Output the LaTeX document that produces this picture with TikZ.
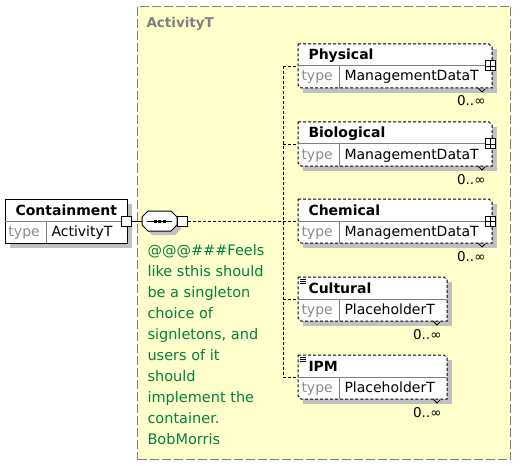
\documentclass[tikz,border=0pt]{standalone}
\usepackage{fontspec}
\setmainfont{DejaVu Sans}
\definecolor{paneyellow}{RGB}{255,255,204}
\definecolor{panegrey}{RGB}{128,128,128}
\definecolor{boxshadow}{RGB}{192,192,192}
\definecolor{notegreen}{RGB}{0,128,64}
\definecolor{typegrey}{RGB}{140,140,140}
\definecolor{divgrey}{RGB}{128,128,128}
\newcommand{\xelem}[8]{%
  \fill[boxshadow] ({#2+5},{#3+5}) rectangle ++(#4,44);
  \path[#7] (#2,#3) -- ++({#4-#8},0) -- ++(#8,#8) -- ++(0,{44-#8}) -- ++({-#4+#8},0) -- ++(-#8,-#8) -- cycle;
  \node[inner sep=0, minimum width=#4pt, minimum height=44pt, anchor=north west] (#1) at (#2,#3) {};
  \draw[divline] ({#2},{#3+22}) -- ++(#4,0);
  \draw[divline] ({#2+41},{#3+22}) -- ++(0,22);
  \node[titletext] (#1-name) at ({#2+10},{#3+16}) {#5};
  \node[typekeytext] (#1-typekey) at ({#2+3},{#3+37}) {type};
  \node[typevaltext] (#1-typeval) at ({#2+46},{#3+37}) {#6};
}
\begin{document}
\begin{tikzpicture}[x=1pt,y=-1pt,line width=1pt,
  solidbox/.style={draw=black,fill=white},
  optbox/.style={draw=black,fill=white,dash pattern=on 3pt off 2pt},
  divline/.style={draw=divgrey,line width=1pt},
  titletext/.style={anchor=base west,inner sep=0,font=\bfseries\fontsize{14}{16}\selectfont},
  typekeytext/.style={anchor=base west,inner sep=0,text=typegrey,font=\fontsize{14}{16}\selectfont},
  typevaltext/.style={anchor=base west,inner sep=0,font=\fontsize{14}{16}\selectfont},
  multtext/.style={anchor=base east,inner sep=0,font=\fontsize{13.5}{16}\selectfont},
  sqbox/.style={draw=black,fill=white,minimum size=10pt,inner sep=0},
  conn/.style={draw=black,dash pattern=on 3pt off 2pt},
  notetext/.style={anchor=north west,inner sep=0,align=left,text=notegreen,font=\fontsize{14.5}{21}\selectfont}]
\useasboundingbox (0,0) rectangle (529,465);
\fill[white] (0,0) rectangle (529,465);
% ActivityT pane
\node[draw=panegrey,fill=paneyellow,dash pattern=on 9pt off 3pt,minimum width=373pt,minimum height=453pt,anchor=north west,inner sep=0] (pane) at (137,6) {};
\node[anchor=base west,inner sep=0,text=panegrey,font=\bfseries\fontsize{13.5}{16}\selectfont] (panelabel) at (146,28) {ActivityT};
% Containment
\xelem{cont}{5}{199}{122}{Containment}{ActivityT}{solidbox}{0}
\node[sqbox] (csq) at (126,221) {};
% sequence compositor
\fill[boxshadow] (152,215) -- (175,215) -- (181,221) -- (181,229) -- (175,235) -- (152,235) -- (146,229) -- (146,221) -- cycle;
\path[draw=black,fill=white] (148,211) -- (171,211) -- (177,217) -- (177,225) -- (171,231) -- (148,231) -- (142,225) -- (142,217) -- cycle;
\node[inner sep=0,minimum width=35pt,minimum height=20pt] (seq) at (159.5,221) {};
\draw (147,221) -- (172,221);
\fill (154,219.5) rectangle ++(3,3);
\fill (158.3,219.5) rectangle ++(3,3);
\fill (162.6,219.5) rectangle ++(3,3);
\node[sqbox] (ssq) at (182,221) {};
\draw (csq.east) -- (seq.west);
% child elements
\xelem{phys}{298}{44}{194}{Physical}{ManagementDataT}{optbox}{3}
\xelem{bio}{298}{122}{194}{Biological}{ManagementDataT}{optbox}{3}
\xelem{chem}{298}{199}{194}{Chemical}{ManagementDataT}{optbox}{3}
\xelem{cult}{298}{277}{149}{Cultural}{PlaceholderT}{optbox}{3}
\xelem{ipm}{298}{355}{149}{IPM}{PlaceholderT}{optbox}{3}
% plus icons
\foreach \b/\yy in {phys/66,bio/144,chem/221}{
  \node[sqbox] (\b-plus) at (490,\yy) {};
  \draw[line width=0.8pt] (\b-plus.north) -- (\b-plus.south) (\b-plus.west) -- (\b-plus.east);
}
% list icons
\foreach \yy in {277,355}{
  \draw[line width=0.7pt] (300,\yy+2) -- (306,\yy+2) (300,\yy+4) -- (306,\yy+4) (300,\yy+6) -- (306,\yy+6);
}
% chevrons
\foreach \rx/\by in {492/88,492/166,492/243,447/321,447/399}{
  \draw[line width=0.8pt] (\rx-14,\by) -- (\rx-10,\by+4) -- (\rx-7,\by+1);
}
% multiplicities
\node[multtext] (phys-mult) at (486,106) {0..∞};
\node[multtext] (bio-mult) at (486,184) {0..∞};
\node[multtext] (chem-mult) at (486,261) {0..∞};
\node[multtext] (cult-mult) at (442,339) {0..∞};
\node[multtext] (ipm-mult) at (442,417) {0..∞};
% connectors
\coordinate (trunk) at (283,0);
\draw[conn] (ssq.east) -- (trunk |- ssq.east);
\draw[conn] (trunk |- phys.west) -- (trunk |- ipm.west);
\foreach \b in {phys,bio,chem,cult,ipm}{
  \draw[conn] (trunk |- \b.west) -- (\b.west);
}
% annotation
\node[notetext] (note) at (147,244) {@@@\#\#\#Feels\\like sthis should\\be a singleton\\choice of\\signletons, and\\users of it\\should\\implement the\\container.\\BobMorris};
\end{tikzpicture}
\end{document}
